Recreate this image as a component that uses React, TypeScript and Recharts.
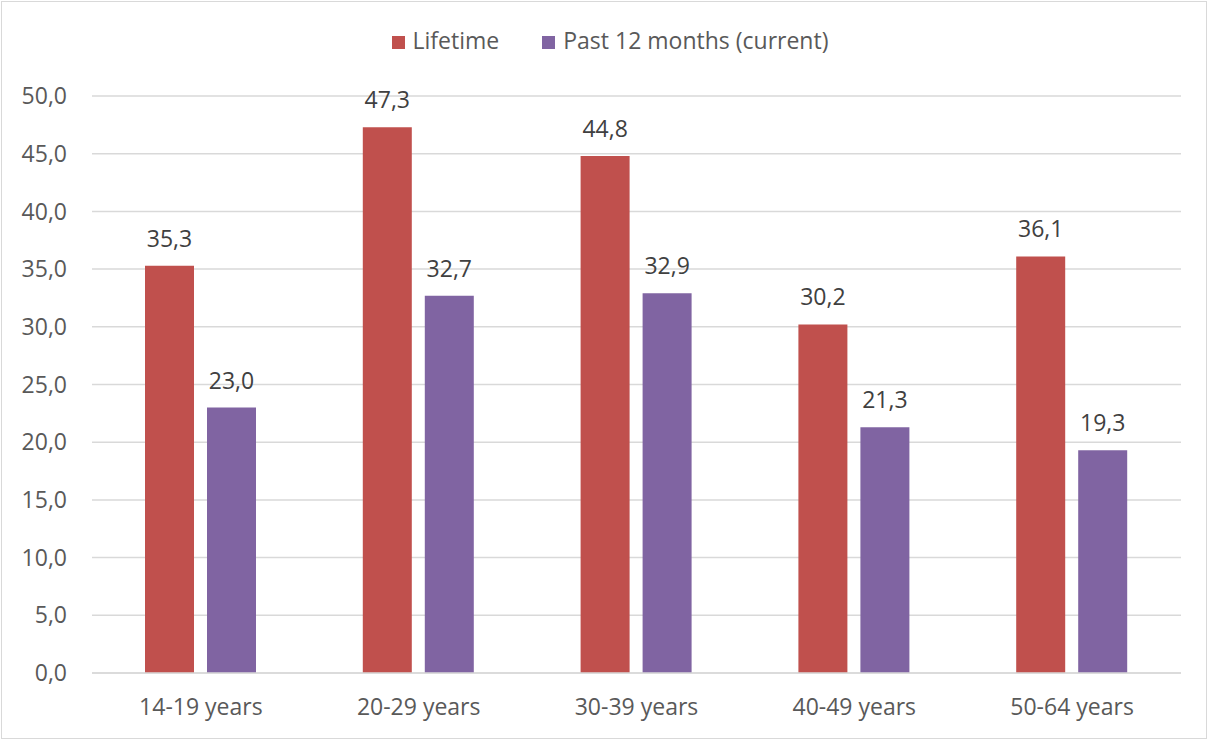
import React from "react";
import {
  BarChart,
  Bar,
  XAxis,
  YAxis,
  CartesianGrid,
  Legend,
  LabelList,
} from "recharts";

const AGE_GROUPS = ["14-19 years", "20-29 years", "30-39 years", "40-49 years", "50-64 years"];
const LIFETIME = [35.3, 47.3, 44.8, 30.2, 36.1];
const PAST_12_MONTHS = [23.0, 32.7, 32.9, 21.3, 19.3];
const Y_TICKS = [0, 5, 10, 15, 20, 25, 30, 35, 40, 45, 50];

const RED = "#C0504D";
const PURPLE = "#8064A2";
const FONT = "'Open Sans', Lato, sans-serif";
const FS = 23;

const fmt = (v: number) => v.toFixed(1).replace(".", ",");

export default function App() {
  const data = AGE_GROUPS.map((name, i) => ({
    name,
    lifetime: LIFETIME[i],
    past: PAST_12_MONTHS[i],
  }));

  return (
    <div
      style={{
        position: "fixed",
        left: 0,
        top: 0,
        width: 1208,
        height: 740,
        background: "#fff",
        fontFamily: FONT,
      }}
    >
      <div
        style={{
          position: "absolute",
          left: 1,
          top: 1,
          width: 1204,
          height: 736,
          border: "1px solid #d9d9d9",
        }}
      />
      <BarChart
        width={1208}
        height={740}
        data={data}
        margin={{ top: 64, right: 27, bottom: 32, left: 10 }}
        barCategoryGap={53}
        barGap={13}
      >
        <CartesianGrid vertical={false} stroke="#d9d9d9" strokeWidth={1.5} />
        <XAxis
          dataKey="name"
          axisLine={{ stroke: "#d9d9d9", strokeWidth: 1.5 }}
          tickLine={false}
          tickSize={0}
          tickMargin={26}
          height={35}
          tick={{ fill: "#595959", fontSize: FS, fontFamily: FONT }}
        />
        <YAxis
          domain={[0, 50]}
          ticks={Y_TICKS}
          interval={0}
          axisLine={false}
          tickLine={false}
          tickSize={0}
          tickMargin={25}
          width={82}
          tickFormatter={fmt}
          tick={{ fill: "#595959", fontSize: FS, fontFamily: FONT }}
        />
        <Legend
          verticalAlign="top"
          align="center"
          iconType="square"
          iconSize={13}
          wrapperStyle={{
            top: 24,
            left: 0,
            width: 1186,
            paddingLeft: 22,
            fontSize: FS,
            fontFamily: FONT,
          }}
          formatter={(value: string, _entry: unknown, index: number) => (
            <span
              style={{
                color: "#595959",
                marginLeft: 4,
                marginRight: index === 0 ? 33 : 0,
              }}
            >
              {value}
            </span>
          )}
        />
        <Bar
          dataKey="lifetime"
          name="Lifetime"
          fill={RED}
          barSize={49}
          isAnimationActive={false}
        >
          <LabelList
            dataKey="lifetime"
            position="top"
            offset={19}
            formatter={(v: number) => fmt(v)}
            style={{ fill: "#404040", fontSize: FS, fontFamily: FONT }}
          />
        </Bar>
        <Bar
          dataKey="past"
          name="Past 12 months (current)"
          fill={PURPLE}
          barSize={49}
          isAnimationActive={false}
        >
          <LabelList
            dataKey="past"
            position="top"
            offset={19}
            formatter={(v: number) => fmt(v)}
            style={{ fill: "#404040", fontSize: FS, fontFamily: FONT }}
          />
        </Bar>
      </BarChart>
    </div>
  );
}
